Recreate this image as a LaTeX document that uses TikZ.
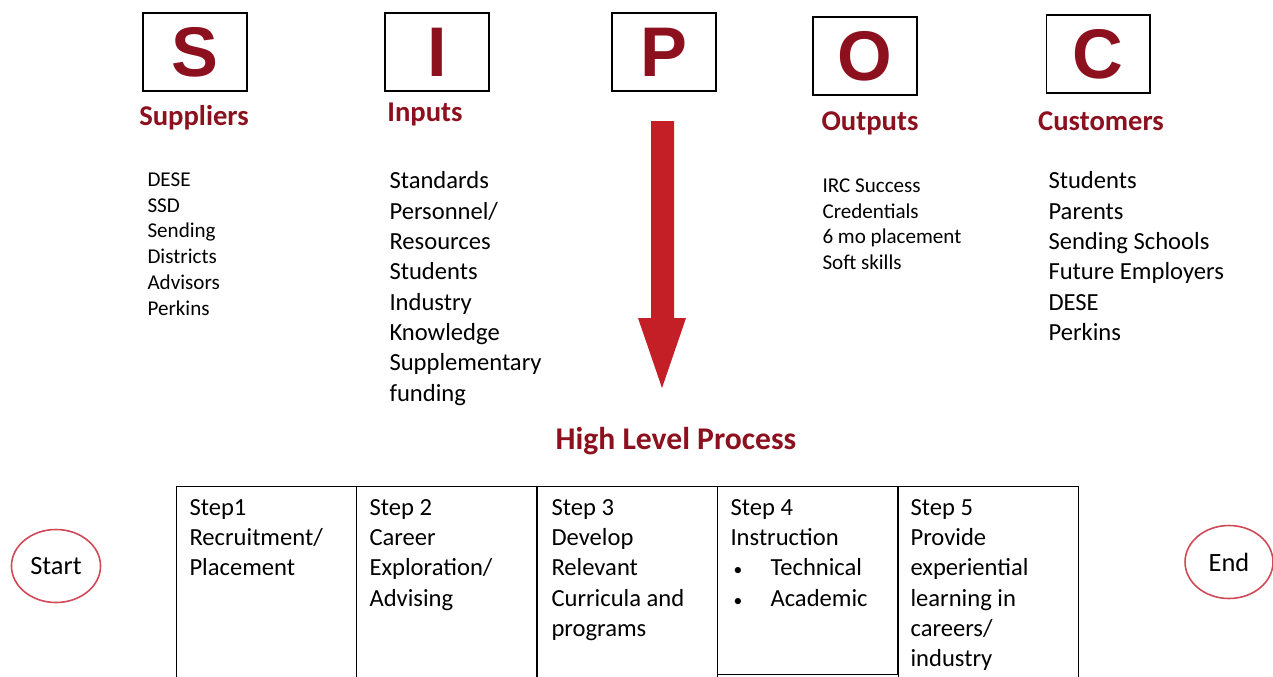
\documentclass[tikz,border=0pt]{standalone}
\usepackage{fontspec}
\usetikzlibrary{shapes.geometric}
\setmainfont{Carlito}
\newfontfamily\letterfont{Liberation Sans}
\definecolor{sipocred}{RGB}{140,16,30}
\definecolor{arrowred}{RGB}{196,30,38}
\definecolor{ringred}{RGB}{208,72,86}

\begin{document}
\begin{tikzpicture}[x=0.02cm, y=-0.02cm, line width = 0.6pt,
				letterbox/.style = {draw, minimum width = 2.08cm, minimum
				height = 1.56cm, inner sep = 0pt, text = sipocred,
				font = \letterfont\bfseries\fontsize{40}{40}\selectfont},
				title/.style = {text = sipocred, inner sep = 0pt,
				font = \bfseries\fontsize{16.3}{19}\selectfont},
				biglist/.style = {anchor = north west, align = left, inner sep = 0pt,
				font = \fontsize{14}{17.3}\selectfont},
				smalllist/.style = {anchor = north west, align = left, inner sep = 0pt,
				font = \fontsize{12}{14.7}\selectfont},
				stepbox/.style = {draw, anchor = north west, minimum width = 3.6cm,
				minimum height = 4.1cm, inner sep = 0pt},
				steptext/.style = {anchor = north west, align = left, inner sep = 0pt,
				font = \fontsize{14}{17.2}\selectfont},
				ends/.style = {ellipse, draw = ringred, line width = 0.9pt,
				minimum width = 1.76cm, minimum height = 1.46cm,
				font = \fontsize{15}{18}\selectfont}]

				\path [use as bounding box, clip] (0,0) rectangle (1273,676);

				% the five letters
				\node [letterbox] (S) at (195,52) {S};
				\node [letterbox] (I) at (437,52) {I};
				\node [letterbox] (P) at (664,52) {P};
				\node [letterbox] (O) at (865,56) {O};
				\node [letterbox] (C) at (1098,54) {C};

				\node [title] (tS) at (194,118) {Suppliers};
				\node [title] (tI) at (425,114) {Inputs};
				\node [title] (tO) at (870,123) {Outputs};
				\node [title] (tC) at (1101,121) {Customers};

				\node [smalllist] (lS) at (147,172) {DESE\\SSD\\Sending\\Districts\\Advisors\\Perkins};
				\node [biglist] (lI) at (389,171) {Standards\\Personnel/\\Resources\\Students\\Industry\\Knowledge\\Supplementary\\funding};
				\node [smalllist] (lO) at (822,178) {IRC Success\\Credentials\\6 mo placement\\Soft skills};
				\node [biglist] (lC) at (1048,171) {Students\\Parents\\Sending Schools\\Future Employers\\DESE\\Perkins};

				% big arrow down from P
				\fill [arrowred] (651,121) -- (674,121) -- (674,318) -- (686,318)
					-- (662,388) -- (638,318) -- (651,318) -- cycle;

				\node [title, font = \bfseries\fontsize{18}{21}\selectfont] (hlp) at (676,441) {High Level Process};

				% process steps
				\node [stepbox] (s1) at (176,486) {};
				\node [stepbox] (s2) at (356,486) {};
				\node [stepbox] (s3) at (537,486) {};
				\node [stepbox, minimum height = 3.76cm] (s4) at (717,486) {};
				\node [stepbox] (s5) at (898,486) {};

				\node [steptext] (t1) at ([shift={(13,13)}]s1.north west) {Step1\\Recruitment/\\Placement};
				\node [steptext] (t2) at ([shift={(13,13)}]s2.north west) {Step 2\\Career\\Exploration/\\Advising};
				\node [steptext] (t3) at ([shift={(14,13)}]s3.north west) {Step 3\\Develop\\Relevant\\Curricula and\\programs};
				\node [steptext] (t4) at ([shift={(13,13)}]s4.north west) {Step 4\\Instruction\\
					\makebox[0.8cm][l]{\hspace{0.06cm}{\fontsize{10}{10}\selectfont\textbullet}}Technical\\
					\makebox[0.8cm][l]{\hspace{0.06cm}{\fontsize{10}{10}\selectfont\textbullet}}Academic};
				\node [steptext] (t5) at ([shift={(12,13)}]s5.north west) {Step 5\\Provide\\experiential\\learning in\\careers/\\industry};

				\node [ends] (start) at (56,566) {Start};
				\node [ends] (end) at (1229,562) {End};
			\end{tikzpicture}
\end{document}
